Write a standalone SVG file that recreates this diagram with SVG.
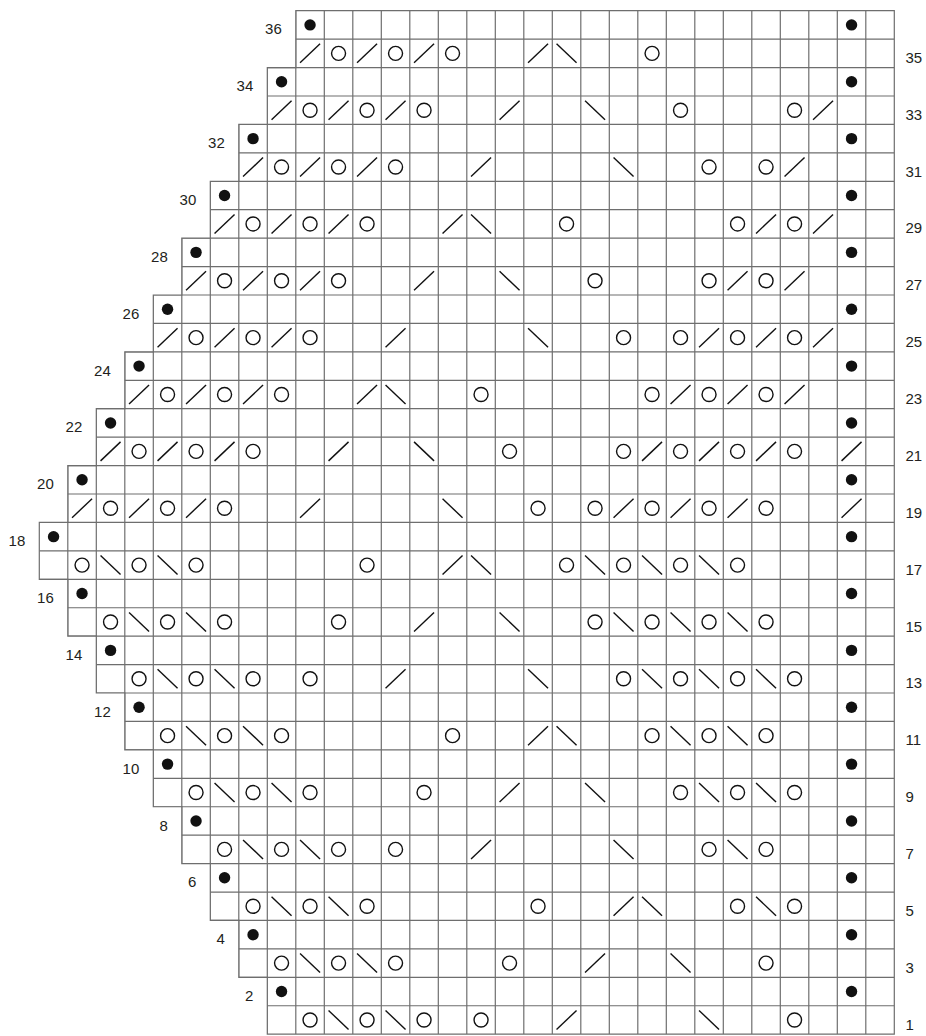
<svg xmlns="http://www.w3.org/2000/svg" xmlns:xlink="http://www.w3.org/1999/xlink" width="926" height="1036" viewBox="0 0 926 1036">
<style>
.grid{fill:none;stroke:#6e6e6e;stroke-width:1.2}
.sym{fill:none;stroke:#111;stroke-width:1.4}
.lbl{font-family:"Liberation Sans Narrow","Liberation Sans",Arial,sans-serif;font-size:15px;fill:#231f20}
.ev{text-anchor:end}
</style>
<defs>
<clipPath id="shape"><polygon points="295.8,10.7 894.3,10.7 894.3,1034.18 267.3,1034.18 267.3,977.32 238.8,977.32 238.8,920.46 210.3,920.46 210.3,863.6 181.8,863.6 181.8,806.74 153.3,806.74 153.3,749.88 124.8,749.88 124.8,693.02 96.3,693.02 96.3,636.16 67.8,636.16 67.8,579.3 39.3,579.3 39.3,522.44 67.8,522.44 67.8,465.58 96.3,465.58 96.3,408.72 124.8,408.72 124.8,351.86 153.3,351.86 153.3,295 181.8,295 181.8,238.14 210.3,238.14 210.3,181.28 238.8,181.28 238.8,124.42 267.3,124.42 267.3,67.56 295.8,67.56"/></clipPath>
<circle id="o" r="7" class="sym"/>
<path id="r" d="M-10 9.5L10-9.5" class="sym"/>
<path id="l" d="M-10-9.5L10 9.5" class="sym"/>
<circle id="d" r="5.7" fill="#111"/>
</defs>
<rect width="926" height="1036" fill="#fff"/>
<g id="grid">
<g clip-path="url(#shape)">
<path class="grid" d="M39.3 39.13H894.3M39.3 67.56H894.3M39.3 95.99H894.3M39.3 124.42H894.3M39.3 152.85H894.3M39.3 181.28H894.3M39.3 209.71H894.3M39.3 238.14H894.3M39.3 266.57H894.3M39.3 295H894.3M39.3 323.43H894.3M39.3 351.86H894.3M39.3 380.29H894.3M39.3 408.72H894.3M39.3 437.15H894.3M39.3 465.58H894.3M39.3 494.01H894.3M39.3 522.44H894.3M39.3 550.87H894.3M39.3 579.3H894.3M39.3 607.73H894.3M39.3 636.16H894.3M39.3 664.59H894.3M39.3 693.02H894.3M39.3 721.45H894.3M39.3 749.88H894.3M39.3 778.31H894.3M39.3 806.74H894.3M39.3 835.17H894.3M39.3 863.6H894.3M39.3 892.03H894.3M39.3 920.46H894.3M39.3 948.89H894.3M39.3 977.32H894.3M39.3 1005.75H894.3"/>
<path class="grid" d="M67.8 10.7V1034.18M96.3 10.7V1034.18M124.8 10.7V1034.18M153.3 10.7V1034.18M181.8 10.7V1034.18M210.3 10.7V1034.18M238.8 10.7V1034.18M267.3 10.7V1034.18M295.8 10.7V1034.18M324.3 10.7V1034.18M352.8 10.7V1034.18M381.3 10.7V1034.18M409.8 10.7V1034.18M438.3 10.7V1034.18M466.8 10.7V1034.18M495.3 10.7V1034.18M523.8 10.7V1034.18M552.3 10.7V1034.18M580.8 10.7V1034.18M609.3 10.7V1034.18M637.8 10.7V1034.18M666.3 10.7V1034.18M694.8 10.7V1034.18M723.3 10.7V1034.18M751.8 10.7V1034.18M780.3 10.7V1034.18M808.8 10.7V1034.18M837.3 10.7V1034.18M865.8 10.7V1034.18"/>
</g>
<polygon class="grid" points="295.8,10.7 894.3,10.7 894.3,1034.18 267.3,1034.18 267.3,977.32 238.8,977.32 238.8,920.46 210.3,920.46 210.3,863.6 181.8,863.6 181.8,806.74 153.3,806.74 153.3,749.88 124.8,749.88 124.8,693.02 96.3,693.02 96.3,636.16 67.8,636.16 67.8,579.3 39.3,579.3 39.3,522.44 67.8,522.44 67.8,465.58 96.3,465.58 96.3,408.72 124.8,408.72 124.8,351.86 153.3,351.86 153.3,295 181.8,295 181.8,238.14 210.3,238.14 210.3,181.28 238.8,181.28 238.8,124.42 267.3,124.42 267.3,67.56 295.8,67.56"/>
</g>
<g id="stitches">
<g id="row36" transform="translate(0 24.92)"><use href="#d" x="310.05"/><use href="#d" x="851.55"/></g>
<g id="row35" transform="translate(0 53.35)"><use href="#r" x="310.05"/><use href="#o" x="338.55"/><use href="#r" x="367.05"/><use href="#o" x="395.55"/><use href="#r" x="424.05"/><use href="#o" x="452.55"/><use href="#r" x="538.05"/><use href="#l" x="566.55"/><use href="#o" x="652.05"/></g>
<g id="row34" transform="translate(0 81.78)"><use href="#d" x="281.55"/><use href="#d" x="851.55"/></g>
<g id="row33" transform="translate(0 110.21)"><use href="#r" x="281.55"/><use href="#o" x="310.05"/><use href="#r" x="338.55"/><use href="#o" x="367.05"/><use href="#r" x="395.55"/><use href="#o" x="424.05"/><use href="#r" x="509.55"/><use href="#l" x="595.05"/><use href="#o" x="680.55"/><use href="#o" x="794.55"/><use href="#r" x="823.05"/></g>
<g id="row32" transform="translate(0 138.64)"><use href="#d" x="253.05"/><use href="#d" x="851.55"/></g>
<g id="row31" transform="translate(0 167.07)"><use href="#r" x="253.05"/><use href="#o" x="281.55"/><use href="#r" x="310.05"/><use href="#o" x="338.55"/><use href="#r" x="367.05"/><use href="#o" x="395.55"/><use href="#r" x="481.05"/><use href="#l" x="623.55"/><use href="#o" x="709.05"/><use href="#o" x="766.05"/><use href="#r" x="794.55"/></g>
<g id="row30" transform="translate(0 195.5)"><use href="#d" x="224.55"/><use href="#d" x="851.55"/></g>
<g id="row29" transform="translate(0 223.93)"><use href="#r" x="224.55"/><use href="#o" x="253.05"/><use href="#r" x="281.55"/><use href="#o" x="310.05"/><use href="#r" x="338.55"/><use href="#o" x="367.05"/><use href="#r" x="452.55"/><use href="#l" x="481.05"/><use href="#o" x="566.55"/><use href="#o" x="737.55"/><use href="#r" x="766.05"/><use href="#o" x="794.55"/><use href="#r" x="823.05"/></g>
<g id="row28" transform="translate(0 252.36)"><use href="#d" x="196.05"/><use href="#d" x="851.55"/></g>
<g id="row27" transform="translate(0 280.79)"><use href="#r" x="196.05"/><use href="#o" x="224.55"/><use href="#r" x="253.05"/><use href="#o" x="281.55"/><use href="#r" x="310.05"/><use href="#o" x="338.55"/><use href="#r" x="424.05"/><use href="#l" x="509.55"/><use href="#o" x="595.05"/><use href="#o" x="709.05"/><use href="#r" x="737.55"/><use href="#o" x="766.05"/><use href="#r" x="794.55"/></g>
<g id="row26" transform="translate(0 309.22)"><use href="#d" x="167.55"/><use href="#d" x="851.55"/></g>
<g id="row25" transform="translate(0 337.65)"><use href="#r" x="167.55"/><use href="#o" x="196.05"/><use href="#r" x="224.55"/><use href="#o" x="253.05"/><use href="#r" x="281.55"/><use href="#o" x="310.05"/><use href="#r" x="395.55"/><use href="#l" x="538.05"/><use href="#o" x="623.55"/><use href="#o" x="680.55"/><use href="#r" x="709.05"/><use href="#o" x="737.55"/><use href="#r" x="766.05"/><use href="#o" x="794.55"/><use href="#r" x="823.05"/></g>
<g id="row24" transform="translate(0 366.08)"><use href="#d" x="139.05"/><use href="#d" x="851.55"/></g>
<g id="row23" transform="translate(0 394.51)"><use href="#r" x="139.05"/><use href="#o" x="167.55"/><use href="#r" x="196.05"/><use href="#o" x="224.55"/><use href="#r" x="253.05"/><use href="#o" x="281.55"/><use href="#r" x="367.05"/><use href="#l" x="395.55"/><use href="#o" x="481.05"/><use href="#o" x="652.05"/><use href="#r" x="680.55"/><use href="#o" x="709.05"/><use href="#r" x="737.55"/><use href="#o" x="766.05"/><use href="#r" x="794.55"/></g>
<g id="row22" transform="translate(0 422.94)"><use href="#d" x="110.55"/><use href="#d" x="851.55"/></g>
<g id="row21" transform="translate(0 451.37)"><use href="#r" x="110.55"/><use href="#o" x="139.05"/><use href="#r" x="167.55"/><use href="#o" x="196.05"/><use href="#r" x="224.55"/><use href="#o" x="253.05"/><use href="#r" x="338.55"/><use href="#l" x="424.05"/><use href="#o" x="509.55"/><use href="#o" x="623.55"/><use href="#r" x="652.05"/><use href="#o" x="680.55"/><use href="#r" x="709.05"/><use href="#o" x="737.55"/><use href="#r" x="766.05"/><use href="#o" x="794.55"/><use href="#r" x="851.55"/></g>
<g id="row20" transform="translate(0 479.8)"><use href="#d" x="82.05"/><use href="#d" x="851.55"/></g>
<g id="row19" transform="translate(0 508.23)"><use href="#r" x="82.05"/><use href="#o" x="110.55"/><use href="#r" x="139.05"/><use href="#o" x="167.55"/><use href="#r" x="196.05"/><use href="#o" x="224.55"/><use href="#r" x="310.05"/><use href="#l" x="452.55"/><use href="#o" x="538.05"/><use href="#o" x="595.05"/><use href="#r" x="623.55"/><use href="#o" x="652.05"/><use href="#r" x="680.55"/><use href="#o" x="709.05"/><use href="#r" x="737.55"/><use href="#o" x="766.05"/><use href="#r" x="851.55"/></g>
<g id="row18" transform="translate(0 536.66)"><use href="#d" x="53.55"/><use href="#d" x="851.55"/></g>
<g id="row17" transform="translate(0 565.09)"><use href="#o" x="82.05"/><use href="#l" x="110.55"/><use href="#o" x="139.05"/><use href="#l" x="167.55"/><use href="#o" x="196.05"/><use href="#o" x="367.05"/><use href="#r" x="452.55"/><use href="#l" x="481.05"/><use href="#o" x="566.55"/><use href="#l" x="595.05"/><use href="#o" x="623.55"/><use href="#l" x="652.05"/><use href="#o" x="680.55"/><use href="#l" x="709.05"/><use href="#o" x="737.55"/></g>
<g id="row16" transform="translate(0 593.52)"><use href="#d" x="82.05"/><use href="#d" x="851.55"/></g>
<g id="row15" transform="translate(0 621.95)"><use href="#o" x="110.55"/><use href="#l" x="139.05"/><use href="#o" x="167.55"/><use href="#l" x="196.05"/><use href="#o" x="224.55"/><use href="#o" x="338.55"/><use href="#r" x="424.05"/><use href="#l" x="509.55"/><use href="#o" x="595.05"/><use href="#l" x="623.55"/><use href="#o" x="652.05"/><use href="#l" x="680.55"/><use href="#o" x="709.05"/><use href="#l" x="737.55"/><use href="#o" x="766.05"/></g>
<g id="row14" transform="translate(0 650.38)"><use href="#d" x="110.55"/><use href="#d" x="851.55"/></g>
<g id="row13" transform="translate(0 678.81)"><use href="#o" x="139.05"/><use href="#l" x="167.55"/><use href="#o" x="196.05"/><use href="#l" x="224.55"/><use href="#o" x="253.05"/><use href="#o" x="310.05"/><use href="#r" x="395.55"/><use href="#l" x="538.05"/><use href="#o" x="623.55"/><use href="#l" x="652.05"/><use href="#o" x="680.55"/><use href="#l" x="709.05"/><use href="#o" x="737.55"/><use href="#l" x="766.05"/><use href="#o" x="794.55"/></g>
<g id="row12" transform="translate(0 707.24)"><use href="#d" x="139.05"/><use href="#d" x="851.55"/></g>
<g id="row11" transform="translate(0 735.67)"><use href="#o" x="167.55"/><use href="#l" x="196.05"/><use href="#o" x="224.55"/><use href="#l" x="253.05"/><use href="#o" x="281.55"/><use href="#o" x="452.55"/><use href="#r" x="538.05"/><use href="#l" x="566.55"/><use href="#o" x="652.05"/><use href="#l" x="680.55"/><use href="#o" x="709.05"/><use href="#l" x="737.55"/><use href="#o" x="766.05"/></g>
<g id="row10" transform="translate(0 764.1)"><use href="#d" x="167.55"/><use href="#d" x="851.55"/></g>
<g id="row9" transform="translate(0 792.53)"><use href="#o" x="196.05"/><use href="#l" x="224.55"/><use href="#o" x="253.05"/><use href="#l" x="281.55"/><use href="#o" x="310.05"/><use href="#o" x="424.05"/><use href="#r" x="509.55"/><use href="#l" x="595.05"/><use href="#o" x="680.55"/><use href="#l" x="709.05"/><use href="#o" x="737.55"/><use href="#l" x="766.05"/><use href="#o" x="794.55"/></g>
<g id="row8" transform="translate(0 820.96)"><use href="#d" x="196.05"/><use href="#d" x="851.55"/></g>
<g id="row7" transform="translate(0 849.39)"><use href="#o" x="224.55"/><use href="#l" x="253.05"/><use href="#o" x="281.55"/><use href="#l" x="310.05"/><use href="#o" x="338.55"/><use href="#o" x="395.55"/><use href="#r" x="481.05"/><use href="#l" x="623.55"/><use href="#o" x="709.05"/><use href="#l" x="737.55"/><use href="#o" x="766.05"/></g>
<g id="row6" transform="translate(0 877.82)"><use href="#d" x="224.55"/><use href="#d" x="851.55"/></g>
<g id="row5" transform="translate(0 906.25)"><use href="#o" x="253.05"/><use href="#l" x="281.55"/><use href="#o" x="310.05"/><use href="#l" x="338.55"/><use href="#o" x="367.05"/><use href="#o" x="538.05"/><use href="#r" x="623.55"/><use href="#l" x="652.05"/><use href="#o" x="737.55"/><use href="#l" x="766.05"/><use href="#o" x="794.55"/></g>
<g id="row4" transform="translate(0 934.68)"><use href="#d" x="253.05"/><use href="#d" x="851.55"/></g>
<g id="row3" transform="translate(0 963.11)"><use href="#o" x="281.55"/><use href="#l" x="310.05"/><use href="#o" x="338.55"/><use href="#l" x="367.05"/><use href="#o" x="395.55"/><use href="#o" x="509.55"/><use href="#r" x="595.05"/><use href="#l" x="680.55"/><use href="#o" x="766.05"/></g>
<g id="row2" transform="translate(0 991.54)"><use href="#d" x="281.55"/><use href="#d" x="851.55"/></g>
<g id="row1" transform="translate(0 1019.97)"><use href="#o" x="310.05"/><use href="#l" x="338.55"/><use href="#o" x="367.05"/><use href="#l" x="395.55"/><use href="#o" x="424.05"/><use href="#o" x="481.05"/><use href="#r" x="566.55"/><use href="#l" x="709.05"/><use href="#o" x="794.55"/></g>
</g>
<g id="labels" class="lbl">
<text class="ev" x="281.8" y="34.4">36</text>
<text x="905.5" y="62.85">35</text>
<text class="ev" x="253.3" y="91.3">34</text>
<text x="905.5" y="119.7">33</text>
<text class="ev" x="224.8" y="148.1">32</text>
<text x="905.5" y="176.6">31</text>
<text class="ev" x="196.3" y="205">30</text>
<text x="905.5" y="233.4">29</text>
<text class="ev" x="167.8" y="261.9">28</text>
<text x="905.5" y="290.3">27</text>
<text class="ev" x="139.3" y="318.7">26</text>
<text x="905.5" y="347.2">25</text>
<text class="ev" x="110.8" y="375.6">24</text>
<text x="905.5" y="404">23</text>
<text class="ev" x="82.3" y="432.4">22</text>
<text x="905.5" y="460.9">21</text>
<text class="ev" x="53.8" y="489.3">20</text>
<text x="905.5" y="517.7">19</text>
<text class="ev" x="25.3" y="546.2">18</text>
<text x="905.5" y="574.6">17</text>
<text class="ev" x="53.8" y="603">16</text>
<text x="905.5" y="631.5">15</text>
<text class="ev" x="82.3" y="659.9">14</text>
<text x="905.5" y="688.3">13</text>
<text class="ev" x="110.8" y="716.7">12</text>
<text x="905.5" y="745.2">11</text>
<text class="ev" x="139.3" y="773.6">10</text>
<text x="905.5" y="802">9</text>
<text class="ev" x="167.8" y="830.5">8</text>
<text x="905.5" y="858.9">7</text>
<text class="ev" x="196.3" y="887.3">6</text>
<text x="905.5" y="915.8">5</text>
<text class="ev" x="224.8" y="944.2">4</text>
<text x="905.5" y="972.6">3</text>
<text class="ev" x="253.3" y="1001">2</text>
<text x="905.5" y="1029.5">1</text>
</g>
</svg>
